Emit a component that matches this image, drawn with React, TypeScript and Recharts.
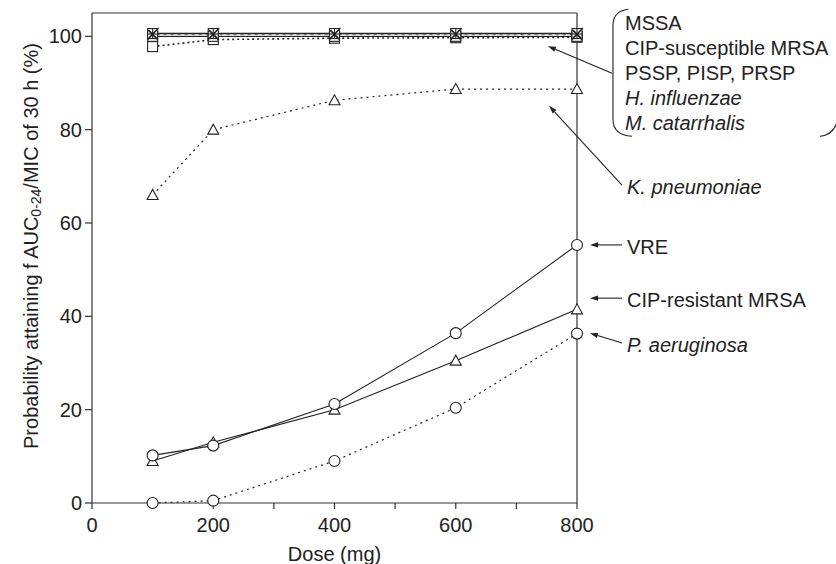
import React from 'react';
import { LineChart, Line, XAxis, YAxis, ReferenceLine } from 'recharts';

// doses (mg) on the x axis
const doses = [100, 200, 400, 600, 800];

// probability (%) of attaining fAUC0-24/MIC of 30 h
const mssa = [100.6, 100.6, 100.6, 100.6, 100.6];
const cipSusceptibleMrsa = [97.8, 99.3, 99.6, 99.7, 99.8];
const pneumococci = [100.3, 100.3, 100.3, 100.3, 100.3];
const hInfluenzae = [100.5, 100.5, 100.5, 100.5, 100.5];
const mCatarrhalis = [100, 100, 100, 100, 100];
const kPneumoniae = [66, 80, 86.3, 88.7, 88.7];
const vre = [10.2, 12.3, 21.2, 36.4, 55.3];
const cipResistantMrsa = [9, 13, 20, 30.5, 41.5];
const pAeruginosa = [0, 0.5, 9, 20.4, 36.3];

const xTicks = [0, 100, 200, 300, 400, 500, 600, 700, 800];
const yTicks = [0, 20, 40, 60, 80, 100];

const groupLabels = ['MSSA', 'CIP-susceptible MRSA', 'PSSP, PISP, PRSP', 'H. influenzae', 'M. catarrhalis'];
const groupItalic = [false, false, false, true, true];

const data = doses.map((d, i) => ({
  dose: d,
  mssa: mssa[i],
  cipSus: cipSusceptibleMrsa[i],
  pneumo: pneumococci[i],
  hinf: hInfluenzae[i],
  mcat: mCatarrhalis[i],
  kpn: kPneumoniae[i],
  vre: vre[i],
  cipRes: cipResistantMrsa[i],
  pae: pAeruginosa[i],
}));

const INK = '#222';
const FONT = '"Liberation Sans", Arial, Helvetica, sans-serif';

function Marker({ cx, cy, shape }: { cx: number; cy: number; shape: string }) {
  const common = { stroke: INK, strokeWidth: 1.1 };
  if (shape === 'circle') return <circle cx={cx} cy={cy} r={5.5} fill="#fff" {...common} />;
  if (shape === 'triangle')
    return (
      <polygon
        points={`${cx - 5.5},${cy + 4.5} ${cx + 5.5},${cy + 4.5} ${cx},${cy - 5.5}`}
        fill="#fff"
        {...common}
      />
    );
  if (shape === 'square') return <rect x={cx - 5} y={cy - 5} width={10} height={10} fill="#fff" {...common} />;
  if (shape === 'cross')
    return (
      <g {...common}>
        <line x1={cx - 5} y1={cy - 5} x2={cx + 5} y2={cy + 5} />
        <line x1={cx - 5} y1={cy + 5} x2={cx + 6} y2={cy - 7} />
      </g>
    );
  // asterisk
  return (
    <g {...common}>
      <line x1={cx - 5} y1={cy} x2={cx + 5} y2={cy} />
      <line x1={cx} y1={cy - 5} x2={cx} y2={cy + 5} />
      <line x1={cx - 4} y1={cy - 4} x2={cx + 4} y2={cy + 4} />
      <line x1={cx - 4} y1={cy + 4} x2={cx + 4} y2={cy - 4} />
    </g>
  );
}

const makeDot = (shape: string, name: string) => (p: any) =>
  <Marker key={`${name}-${p.index}`} cx={p.cx} cy={p.cy} shape={shape} />;

// arrow from tail (second point) to tip (first point) with text after the tail
function Arrow(props: any) {
  const { x1, y1, x2, y2, text, italic, group } = props;
  const ang = Math.atan2(y2 - y1, x2 - x1);
  const len = 8;
  const w = 2.6;
  const bx = x1 + Math.cos(ang) * len;
  const by = y1 + Math.sin(ang) * len;
  const px = -Math.sin(ang) * w;
  const py = Math.cos(ang) * w;
  return (
    <g>
      <line x1={bx} y1={by} x2={x2} y2={y2} stroke={INK} strokeWidth={1.1} />
      <polygon points={`${x1},${y1} ${bx + px},${by + py} ${bx - px},${by - py}`} fill={INK} />
      {text && (
        <text
          x={x2 + 5}
          y={y2 + 2}
          fontSize={20}
          fontFamily={FONT}
          fontStyle={italic ? 'italic' : 'normal'}
          fill={INK}
          dominantBaseline="central"
        >
          {text}
        </text>
      )}
      {group && (
        <g>
          <path
            d={`M ${x2 + 16} ${y2 - 64} Q ${x2 + 1} ${y2 - 62} ${x2 + 1} ${y2 - 48} L ${x2 + 1} ${y2 + 46} Q ${x2 + 1} ${y2 + 62} ${x2 + 20} ${y2 + 63}`}
            fill="none"
            stroke={INK}
            strokeWidth={1.1}
          />
          <path
            d={`M ${x2 + 208} ${y2 + 63} Q ${x2 + 222} ${y2 + 62} ${x2 + 226} ${y2 + 46}`}
            fill="none"
            stroke={INK}
            strokeWidth={1.1}
          />
          {groupLabels.map((t, i) => (
            <text
              key={t}
              x={x2 + 13}
              y={y2 - 50 + i * 25}
              fontSize={20}
              fontFamily={FONT}
              fontStyle={groupItalic[i] ? 'italic' : 'normal'}
              fill={INK}
              dominantBaseline="central"
            >
              {t}
            </text>
          ))}
        </g>
      )}
    </g>
  );
}

export default function App() {
  const tickStyle = { fontSize: 20, fill: INK, fontFamily: FONT };
  return (
    <div style={{ position: 'absolute', left: 0, top: 0, width: 836, height: 564, background: '#fff', fontFamily: FONT }}>
      <LineChart width={836} height={564} data={data} margin={{ top: 13, right: 259, bottom: 0, left: 0 }}>
        <XAxis
          dataKey="dose"
          type="number"
          domain={[0, 800]}
          ticks={xTicks}
          tickFormatter={(v: number) => (v % 200 === 0 ? String(v) : '')}
          height={61}
          tick={tickStyle}
          tickSize={6}
          tickMargin={9}
          stroke="#333"
          strokeWidth={1.2}
          label={{
            content: ({ viewBox }: any) => (
              <text
                x={viewBox.x + viewBox.width / 2}
                y={viewBox.y + 51}
                textAnchor="middle"
                dominantBaseline="central"
                fontSize={20}
                fontFamily={FONT}
                fill={INK}
              >
                Dose (mg)
              </text>
            ),
          }}
        />
        <YAxis
          type="number"
          domain={[0, 105]}
          ticks={yTicks}
          width={92}
          tick={tickStyle}
          tickSize={7}
          tickMargin={3}
          stroke="#333"
          strokeWidth={1.2}
          label={{
            content: ({ viewBox }: any) => {
              const cx = 31;
              const cy = viewBox.y + viewBox.height / 2 - 12;
              return (
                <text
                  x={cx}
                  y={cy}
                  transform={`rotate(-90, ${cx}, ${cy})`}
                  textAnchor="middle"
                  dominantBaseline="central"
                  fontSize={20}
                  fontFamily={FONT}
                  fill={INK}
                >
                  Probability attaining f AUC
                  <tspan fontSize={14} dy={5}>0-24</tspan>
                  <tspan dy={-5}>/MIC of 30 h (%)</tspan>
                </text>
              );
            },
          }}
        />
        <ReferenceLine y={105} stroke="#333" strokeWidth={1.2} />
        <ReferenceLine x={800} stroke="#333" strokeWidth={1.2} />

        <Line dataKey="pae" type="linear" stroke={INK} strokeWidth={1.2} strokeDasharray="2 4" dot={makeDot('circle', 'pae')} isAnimationActive={false} />
        <Line dataKey="cipRes" type="linear" stroke={INK} strokeWidth={1.1} dot={makeDot('triangle', 'cipRes')} isAnimationActive={false} />
        <Line dataKey="vre" type="linear" stroke={INK} strokeWidth={1.1} dot={makeDot('circle', 'vre')} isAnimationActive={false} />
        <Line dataKey="kpn" type="linear" stroke={INK} strokeWidth={1.2} strokeDasharray="2 4" dot={makeDot('triangle', 'kpn')} isAnimationActive={false} />
        <Line dataKey="cipSus" type="linear" stroke={INK} strokeWidth={1.6} strokeDasharray="2 3" dot={makeDot('square', 'cipSus')} isAnimationActive={false} />
        <Line dataKey="mcat" type="linear" stroke={INK} strokeWidth={1.4} dot={makeDot('square', 'mcat')} isAnimationActive={false} />
        <Line dataKey="mssa" type="linear" stroke={INK} strokeWidth={1.4} dot={makeDot('square', 'mssa')} isAnimationActive={false} />
        <Line dataKey="hinf" type="linear" stroke={INK} strokeWidth={1.2} dot={makeDot('asterisk', 'hinf')} isAnimationActive={false} />
        <Line dataKey="pneumo" type="linear" stroke="#fff" strokeWidth={1} strokeDasharray="4 3" dot={makeDot('cross', 'pneumo')} isAnimationActive={false} />

        <ReferenceLine
          ifOverflow="visible"
          segment={[{ x: 752, y: 97.9 }, { x: 857.7, y: 92.1 }]}
          shape={(p: any) => <Arrow {...p} group />}
        />
        <ReferenceLine
          ifOverflow="visible"
          segment={[{ x: 754, y: 85.1 }, { x: 874.2, y: 68.1 }]}
          shape={(p: any) => <Arrow {...p} text="K. pneumoniae" italic />}
        />
        <ReferenceLine
          ifOverflow="visible"
          segment={[{ x: 821.4, y: 55.3 }, { x: 874.2, y: 55.3 }]}
          shape={(p: any) => <Arrow {...p} text="VRE" />}
        />
        <ReferenceLine
          ifOverflow="visible"
          segment={[{ x: 821.4, y: 43.9 }, { x: 874.2, y: 43.9 }]}
          shape={(p: any) => <Arrow {...p} text="CIP-resistant MRSA" />}
        />
        <ReferenceLine
          ifOverflow="visible"
          segment={[{ x: 821.4, y: 36.4 }, { x: 874.2, y: 34.3 }]}
          shape={(p: any) => <Arrow {...p} text="P. aeruginosa" italic />}
        />
      </LineChart>
    </div>
  );
}
